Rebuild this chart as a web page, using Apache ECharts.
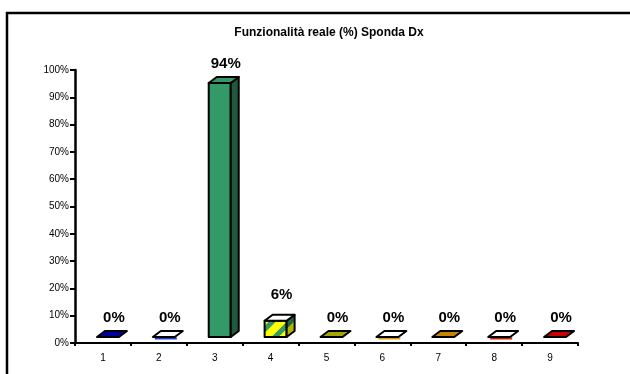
<!DOCTYPE html>
<html>
<head>
<meta charset="utf-8">
<script src="https://cdn.jsdelivr.net/npm/echarts@6/dist/echarts.min.js"></script>
<style>
  html, body { margin: 0; padding: 0; background: #fff; }
  #chart { width: 630px; height: 374px; }
</style>
</head>
<body>
<div id="chart"></div>
<script>
// Categories along the bottom axis
const categories = ['1', '2', '3', '4', '5', '6', '7', '8', '9'];
// Real functionality per section, in percent
const values = [0, 0, 94, 6, 0, 0, 0, 0, 0];
// Y axis bounds and step (percent)
const yMin = 0, yMax = 100, yStep = 10;

// Fill style per bar: front colour, side colour, top colour, underline accent
const barStyles = [
  { front: '#000080', side: '#000050', top: '#0000a0', accent: null },
  { front: '#ffffff', side: '#cccccc', top: '#ffffff', accent: '#1f3fd0' },
  { front: '#339966', side: '#1f5a3c', top: '#339966', accent: null },
  { front: 'stripes', side: 'stripesDark', top: '#ffffff', accent: null },
  { front: '#a6a600', side: '#6e6e00', top: '#a6a600', accent: null },
  { front: '#ffffff', side: '#cccccc', top: '#ffffff', accent: '#e0a000' },
  { front: '#c88400', side: '#8a5a00', top: '#c88400', accent: null },
  { front: '#ffffff', side: '#cccccc', top: '#ffffff', accent: '#d02000' },
  { front: '#c80000', side: '#800000', top: '#c80000', accent: null }
];

// Diagonal yellow/green stripe pattern
function makeStripes(bg, fg) {
  const s = 18;
  const cv = document.createElement('canvas');
  cv.width = s; cv.height = s;
  const g = cv.getContext('2d');
  g.fillStyle = bg;
  g.fillRect(0, 0, s, s);
  g.strokeStyle = fg;
  g.lineWidth = 5;
  g.beginPath();
  g.moveTo(-3, s + 3); g.lineTo(s + 3, -3);
  g.moveTo(-3, 3); g.lineTo(3, -3);
  g.moveTo(s - 3, s + 3); g.lineTo(s + 3, s - 3);
  g.stroke();
  return { image: cv, repeat: 'repeat' };
}
const patterns = {
  stripes: makeStripes('#ffff00', '#339966'),
  stripesDark: makeStripes('#b3b300', '#226644')
};
function paint(c) { return patterns[c] || c; }

const DX = 8, DY = 6, LIFT = 6;

function renderBar(params, api) {
  const i = api.value(0);
  const v = api.value(1);
  const base = api.coord([i, 0]);
  const topPt = api.coord([i, v]);
  const c = base[0];
  const x0 = c - 6, x1 = c + 16;
  const yb = base[1] - LIFT;
  const yt = yb - (base[1] - topPt[1]) * 0.99;
  const st = barStyles[i];
  const children = [];
  const edge = { stroke: '#000', lineWidth: 2, lineJoin: 'round' };
  const raised = yb - yt > 0.5;

  if (raised) {
    children.push({
      type: 'polygon',
      shape: { points: [[x0, yt], [x1, yt], [x1, yb], [x0, yb]] },
      style: Object.assign({ fill: paint(st.front) }, edge)
    });
    children.push({
      type: 'polygon',
      shape: { points: [[x1, yt], [x1 + DX, yt - DY], [x1 + DX, yb - DY], [x1, yb]] },
      style: Object.assign({ fill: paint(st.side) }, edge)
    });
  }
  if (st.accent) {
    children.push({
      type: 'polyline',
      shape: { points: [[x0 + 2, yb + 1.5], [x1 + 2, yb + 1.5]] },
      style: { stroke: st.accent, lineWidth: 2, fill: null }
    });
  }
  children.push({
    type: 'polygon',
    shape: { points: [[x0, yt], [x1, yt], [x1 + DX, yt - DY], [x0 + DX, yt - DY]] },
    style: Object.assign({ fill: paint(st.top) }, edge)
  });
  children.push({
    type: 'text',
    style: {
      text: Math.round(v) + '%',
      x: c + 11,
      y: yt - DY - (raised && v < 50 ? 20 : 13),
      align: 'center',
      verticalAlign: 'middle',
      font: 'bold 15px Arial, "Liberation Sans", sans-serif',
      fill: '#000'
    }
  });
  return { type: 'group', children: children };
}

const chart = echarts.init(document.getElementById('chart'), null, { renderer: 'canvas' });
chart.setOption({
  animation: false,
  backgroundColor: '#fff',
  title: {
    text: 'Funzionalità reale (%) Sponda Dx',
    left: 324,
    top: 22,
    textAlign: 'center',
    textStyle: { fontFamily: 'Arial, "Liberation Sans", sans-serif', fontSize: 12, fontWeight: 'bold', color: '#000' }
  },
  graphic: [{
    type: 'rect',
    shape: { x: 7, y: 13, width: 700, height: 400 },
    style: { fill: null, stroke: '#000', lineWidth: 2.5 },
    silent: true
  }],
  grid: { left: 75, right: 52, top: 70, bottom: 31, containLabel: false },
  xAxis: {
    type: 'category',
    data: categories,
    boundaryGap: true,
    axisLine: { lineStyle: { color: '#000', width: 2 } },
    axisTick: { show: true, length: 3, lineStyle: { color: '#000', width: 2 } },
    axisLabel: { color: '#000', fontSize: 10, fontFamily: 'Arial, "Liberation Sans", sans-serif', margin: 10 },
    splitLine: { show: false }
  },
  yAxis: {
    type: 'value',
    min: yMin,
    max: yMax,
    interval: yStep,
    axisLine: { show: true, lineStyle: { color: '#000', width: 2.5 } },
    axisTick: { show: true, length: 5, lineStyle: { color: '#000', width: 2 } },
    axisLabel: { color: '#000', fontSize: 10, fontFamily: 'Arial, "Liberation Sans", sans-serif', margin: 6, formatter: '{value}%' },
    splitLine: { show: false }
  },
  series: [{
    type: 'custom',
    renderItem: renderBar,
    data: values.map((v, i) => [i, v]),
    encode: { x: 0, y: 1 },
    clip: false
  }]
});
</script>
</body>
</html>
